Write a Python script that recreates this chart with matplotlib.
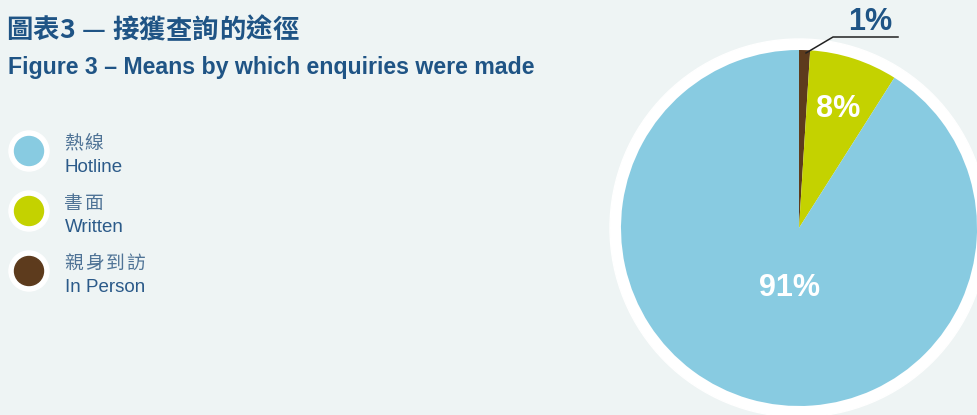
import matplotlib.pyplot as plt
from matplotlib.patches import Circle

plt.rcParams['font.family'] = ['Liberation Sans', 'Noto Sans CJK TC', 'DejaVu Sans']

# enquiry channels and their shares (%)
labels_zh = ['熱線', '書面', '親身到訪']
labels_en = ['Hotline', 'Written', 'In Person']
shares = [91, 8, 1]
colors = ['#88cbe1', '#c4d200', '#5d3b1d']

bg = '#eef4f4'
navy = '#1f5485'

fig = plt.figure(figsize=(9.78, 4.15), dpi=100, facecolor=bg)
ax = fig.add_axes([0, 0, 1, 1])
ax.set_facecolor(bg)
renderer = fig.canvas.get_renderer()


def tracked(x, y, s, spacing, **kw):
    # draw a string one glyph at a time with extra letter spacing (pixels)
    for ch in s:
        t = ax.text(x, y, ch, ha='left', va='baseline', **kw)
        w = t.get_window_extent(renderer).width
        x += w + spacing


# pie: clockwise from 12 o'clock, In Person first (y axis points down)
cx, cy, r = 799, 228, 178
ax.add_patch(Circle((cx, cy), r + 11, color='white', zorder=1))
order = [2, 1, 0]
wedges, _ = ax.pie([shares[i] for i in order], colors=[colors[i] for i in order],
                   startangle=-90, counterclock=True, center=(cx, cy), radius=r,
                   wedgeprops=dict(linewidth=0), frame=True)
for w in wedges:
    w.set_zorder(2)
ax.set_xlim(0, 978)
ax.set_ylim(415, 0)
ax.set_aspect('equal')
ax.axis('off')

# percentage labels
ax.text(838, 109, f'{shares[1]}%', color='white', fontsize=22, fontweight='bold',
        ha='center', va='center', zorder=3)
ax.text(789, 288, f'{shares[0]}%', color='white', fontsize=22, fontweight='bold',
        ha='center', va='center', zorder=3)
ax.plot([806, 833, 898], [53, 37, 37], color='#222222', lw=1.1, zorder=3)
ax.text(870, 22, f'{shares[2]}%', color=navy, fontsize=22, fontweight='bold',
        ha='center', va='center', zorder=3)

# titles
tracked(6, 38, '圖表3 — 接獲查詢的途徑', 0.3, color=navy, fontsize=19,
        fontweight='bold', family=['Noto Sans CJK TC', 'DejaVu Sans'])
ax.text(8, 74, 'Figure 3 – Means by which enquiries were made', color=navy,
        fontsize=16.7, fontweight='bold', ha='left', va='baseline')

# legend
for i, (zh, en) in enumerate(zip(labels_zh, labels_en)):
    y = 151 + 60 * i
    ax.add_patch(Circle((29, y), 20, color='white', zorder=1))
    ax.add_patch(Circle((29, y), 14.5, color=colors[i], zorder=2))
    tracked(64, y - 2, zh, 2, color='#4f7396', fontsize=13.5,
            family=['Noto Sans CJK TC', 'DejaVu Sans'])
    ax.text(65, y + 21, en, color='#2b5a89', fontsize=13.5, ha='left', va='baseline')

fig.savefig('out.png', dpi=100, facecolor=bg)
